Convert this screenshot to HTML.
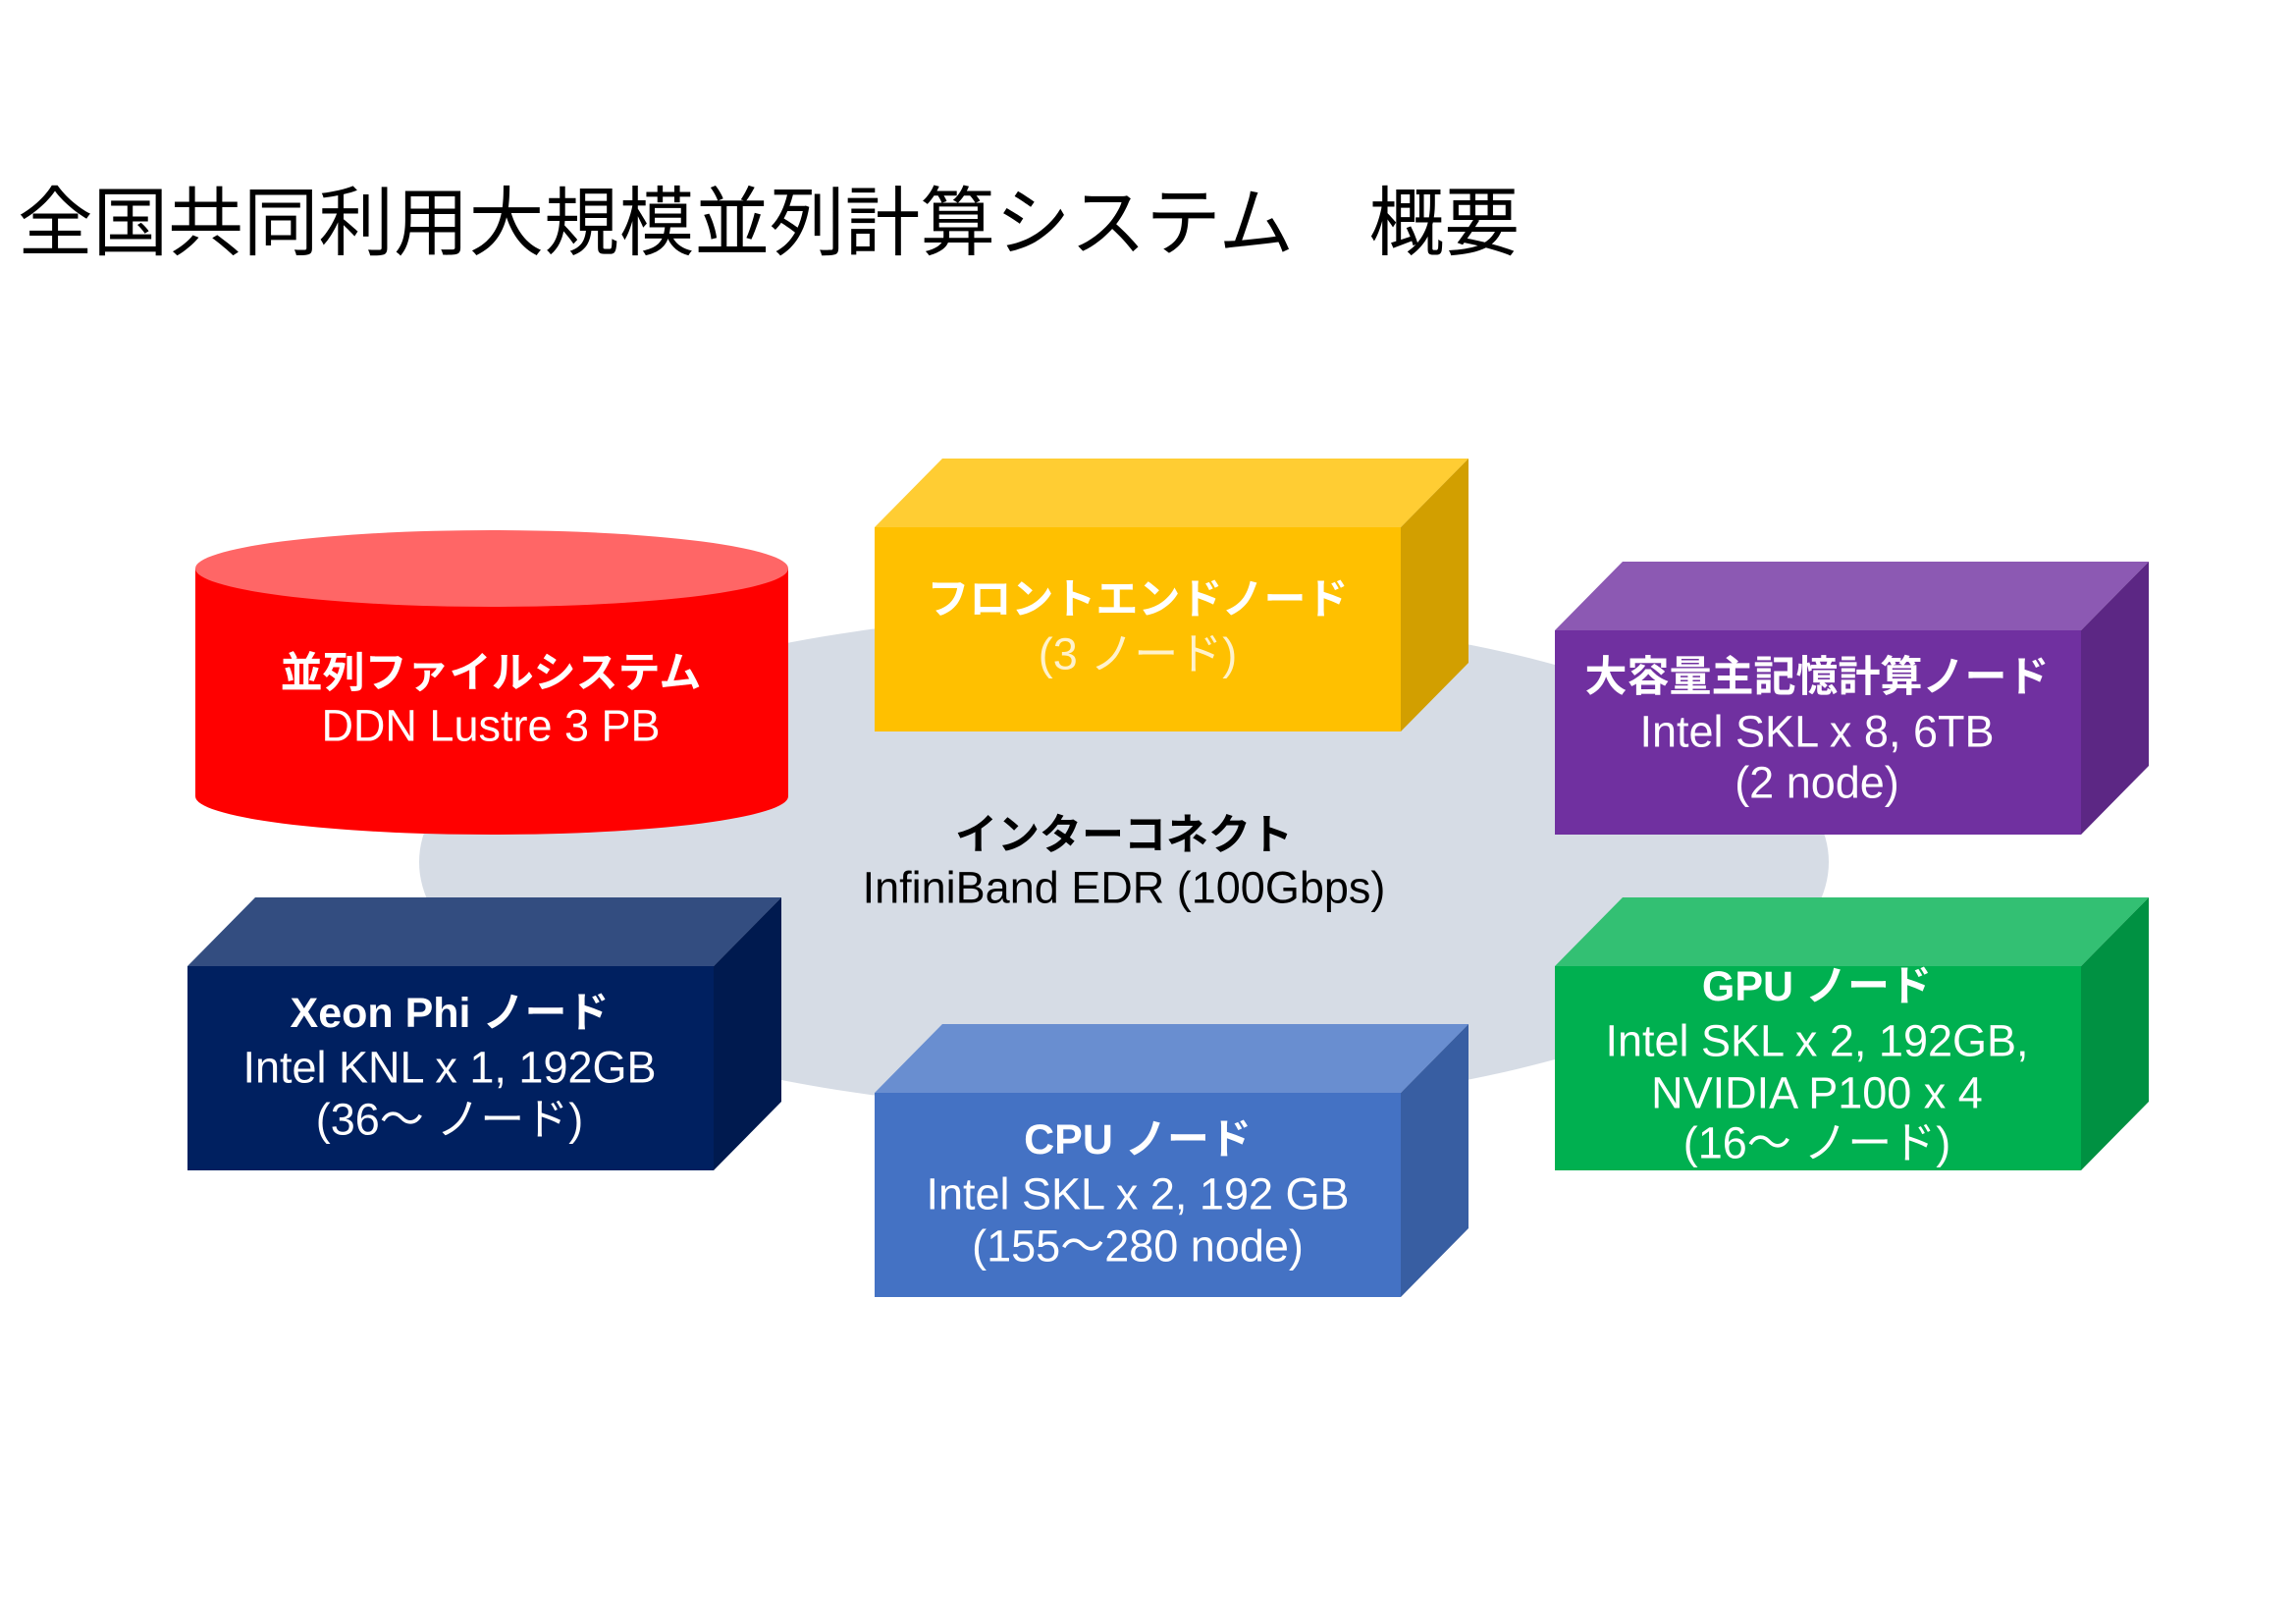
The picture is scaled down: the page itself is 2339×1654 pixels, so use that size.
<!DOCTYPE html>
<html><head><meta charset="utf-8"><style>
html,body{margin:0;padding:0;background:#fff;}
svg{display:block;}
text{font-family:"Liberation Sans","Noto Sans CJK JP",sans-serif;}
</style></head><body>
<svg width="2339" height="1654" viewBox="0 0 2339 1654" xmlns="http://www.w3.org/2000/svg">
<rect width="2339" height="1654" fill="#fff"/>
<text x="18" y="228" font-size="77" dominant-baseline="central" fill="#000" textLength="1530" lengthAdjust="spacingAndGlyphs">全国共同利用大規模並列計算システム　概要</text>

<ellipse cx="1145" cy="878" rx="718" ry="254" fill="#D6DCE5"/>

<path d="M199 579 L199 811 A302 39 0 0 0 803 811 L803 579 Z" fill="#FF0000"/>
<ellipse cx="501" cy="579" rx="302" ry="39" fill="#FF6666"/>

<polygon points="891,537 960,467 1496,467 1427,537" fill="#FFCD33"/>
<polygon points="1427,537 1496,467 1496,675 1427,745" fill="#D29F00"/>
<rect x="891" y="537" width="536" height="208" fill="#FFC000"/>

<polygon points="1584,642 1653,572 2189,572 2120,642" fill="#8C59B3"/>
<polygon points="2120,642 2189,572 2189,780 2120,850" fill="#5C2784"/>
<rect x="1584" y="642" width="536" height="208" fill="#7030A0"/>

<polygon points="191,984 260,914 796,914 727,984" fill="#334D80"/>
<polygon points="727,984 796,914 796,1122 727,1192" fill="#001A4F"/>
<rect x="191" y="984" width="536" height="208" fill="#002060"/>

<polygon points="891,1113 960,1043 1496,1043 1427,1113" fill="#698ED0"/>
<polygon points="1427,1113 1496,1043 1496,1251 1427,1321" fill="#385EA2"/>
<rect x="891" y="1113" width="536" height="208" fill="#4472C4"/>

<polygon points="1584,984 1653,914 2189,914 2120,984" fill="#33C073"/>
<polygon points="2120,984 2189,914 2189,1122 2120,1192" fill="#009142"/>
<rect x="1584" y="984" width="536" height="208" fill="#00B050"/>

<g text-anchor="middle" dominant-baseline="central" font-size="45" fill="#fff">
<g font-weight="bold" font-size="43">
<text x="500" y="686">並列ファイルシステム</text>
<text x="1159" y="611">フロントエンドノード</text>
<text x="1851" y="690">大容量主記憶計算ノード</text>
<text x="1145" y="851" fill="#000">インターコネクト</text>
<text x="458" y="1032">Xeon Phi ノード</text>
<text x="1159" y="1161">CPU ノード</text>
<text x="1851" y="1005">GPU ノード</text>
</g>
<text x="500" y="739">DDN Lustre 3 PB</text>
<text x="1159" y="666" fill="#FFF2CC">(3 ノード)</text>
<text x="1851" y="745">Intel SKL x 8, 6TB</text>
<text x="1851" y="797">(2 node)</text>
<text x="1145" y="904" fill="#000">InfiniBand EDR (100Gbps)</text>
<text x="458" y="1087">Intel KNL x 1, 192GB</text>
<text x="458" y="1140">(36～ ノード)</text>
<text x="1159" y="1216">Intel SKL x 2, 192 GB</text>
<text x="1159" y="1269">(155～280 node)</text>
<text x="1851" y="1060">Intel SKL x 2, 192GB,</text>
<text x="1851" y="1113">NVIDIA P100 x 4</text>
<text x="1851" y="1164">(16～ ノード)</text>
</g>
</svg>
</body></html>
